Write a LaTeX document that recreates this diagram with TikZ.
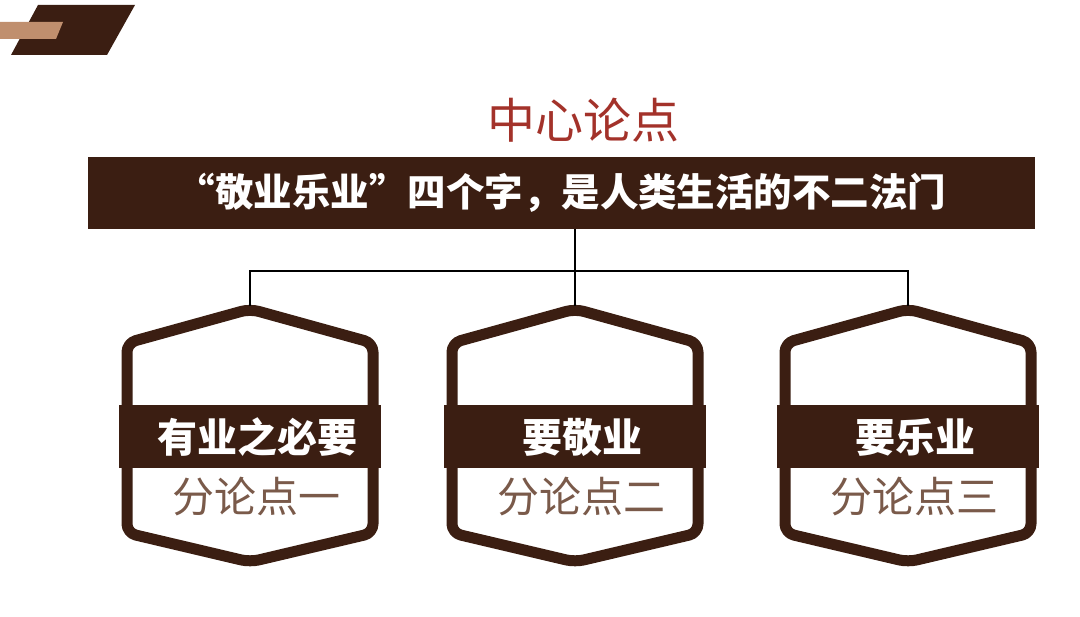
\documentclass[tikz,border=0pt]{standalone}
\usepackage{fontspec}
\setmainfont{Noto Sans CJK SC}
\definecolor{darkbrown}{HTML}{3B1E12}
\definecolor{tanbar}{HTML}{C08F6E}
\definecolor{titlered}{HTML}{A3322A}
\definecolor{subbrown}{HTML}{7A5A4A}
\tikzset{
  hexline/.style={draw=darkbrown, line width=11pt, rounded corners=9pt, line join=round},
  bandbox/.style={fill=darkbrown},
  conn/.style={draw=black, line width=1.3pt},
  bannerbox/.style={fill=darkbrown, text=white, font=\fontsize{38.5}{42}\selectfont\bfseries, minimum width=947pt, minimum height=72pt, inner sep=0pt},
  titletext/.style={text=titlered, font=\fontsize{48}{52}\selectfont},
  labeltext/.style={text=white, font=\fontsize{40}{44}\selectfont\bfseries},
  subtext/.style={text=subbrown, font=\fontsize{42}{46}\selectfont},
}
\begin{document}
\begin{tikzpicture}[x=1pt,y=-1pt]
\useasboundingbox (0,0) rectangle (1080,617);
% decoration
\fill[darkbrown] (38,5) -- (135,5) -- (107,55) -- (11,55) -- cycle;
\fill[tanbar] (0,22) -- (63,22) -- (56,39) -- (0,39) -- cycle;
% title and banner
\node[titletext] (title) at (583,120) {中心论点};
\node[bannerbox] (banner) at (561.5,193) {“敬业乐业”四个字，是人类生活的不二法门};
% hexagons
\foreach \cx/\i/\lab/\sub in {250/1/有业之必要/分论点一, 575/2/要敬业/分论点二, 908/3/要乐业/分论点三}{
  \coordinate (t\i) at (\cx,306);
  \draw[hexline] (\cx,309) -- (\cx+123,343) -- (\cx+123,533) -- (\cx,562) -- (\cx-123,533) -- (\cx-123,343) -- cycle;
  \fill[bandbox] (\cx-131,405) rectangle (\cx+131,468);
  \node[labeltext] (lab\i) at (\cx+7,437) {\lab};
  \node[subtext] (sub\i) at (\cx+6,497) {\sub};
}
% connectors
\draw[conn] (banner.south -| t2) -- (t2);
\draw[conn] (t1) -- (t1 |- 0,271) -- (t3 |- 0,271) -- (t3);
\end{tikzpicture}
\end{document}
